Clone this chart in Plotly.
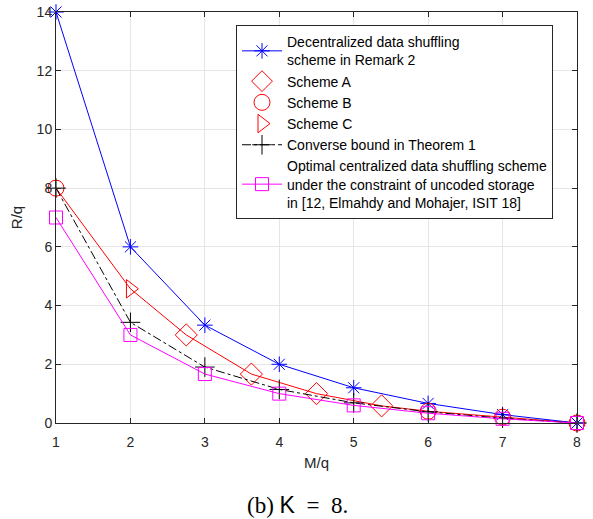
import plotly.graph_objects as go

M = [1, 2, 3, 4, 5, 6, 7, 8]
decentralized = [14, 6, 3.333, 2, 1.2, 0.667, 0.286, 0]
converse = [8, 3.429, 1.905, 1.143, 0.686, 0.381, 0.163, 0]
centralized = [7, 3, 1.667, 1, 0.6, 0.333, 0.143, 0]

schemeA_M = [2.75, 3.625, 4.5, 5.375]
schemeA_R = [3.0, 1.667, 1.0, 0.583]
schemeB_M = [1, 6, 7, 8]
schemeB_R = [8, 0.4, 0.2, 0]
schemeC_M = [2]
schemeC_R = [4.571]

best_M = [1, 2, 2.75, 3.625, 4.5, 5.375, 6, 7, 8]
best_R = [8, 4.571, 3.0, 1.667, 1.0, 0.583, 0.4, 0.2, 0]

names = [
    "Decentralized data shuffling<br>scheme in Remark 2",
    "Scheme A",
    "Scheme B",
    "Scheme C",
    "Converse bound in Theorem 1",
    "Optimal centralized data shuffling scheme<br>under the constraint of uncoded storage<br>in [12, Elmahdy and Mohajer, ISIT 18]",
]

BLUE = "#0000ff"
RED = "#ff0000"
MAG = "#ff00ff"
BLK = "#000000"

fig = go.Figure()
fig.add_trace(go.Scatter(x=best_M, y=best_R, mode="lines", line=dict(color=RED, width=1),
                         showlegend=False, hoverinfo="skip", cliponaxis=False))
fig.add_trace(go.Scatter(x=M, y=decentralized, mode="lines+markers", name=names[0],
                         line=dict(color=BLUE, width=1), cliponaxis=False,
                         marker=dict(symbol="asterisk-open", size=13, line=dict(color=BLUE, width=1))))
fig.add_trace(go.Scatter(x=schemeA_M, y=schemeA_R, mode="markers", name=names[1], cliponaxis=False,
                         marker=dict(symbol="diamond-open", size=17, color=RED, line=dict(color=RED, width=1))))
fig.add_trace(go.Scatter(x=schemeB_M, y=schemeB_R, mode="markers", name=names[2], cliponaxis=False,
                         marker=dict(symbol="circle-open", size=16, color=RED, line=dict(color=RED, width=1))))
fig.add_trace(go.Scatter(x=schemeC_M, y=schemeC_R, mode="markers", name=names[3], cliponaxis=False,
                         marker=dict(symbol="triangle-right-open", size=16, color=RED, line=dict(color=RED, width=1))))
fig.add_trace(go.Scatter(x=M, y=converse, mode="lines+markers", name=names[4], cliponaxis=False,
                         line=dict(color=BLK, width=1, dash="dashdot"),
                         marker=dict(symbol="cross-thin-open", size=14, color=BLK, line=dict(color=BLK, width=1))))
fig.add_trace(go.Scatter(x=M, y=centralized, mode="lines+markers", name=names[5], cliponaxis=False,
                         line=dict(color=MAG, width=1),
                         marker=dict(symbol="square-open", size=13, color=MAG, line=dict(color=MAG, width=1))))

axis_common = dict(showline=True, linecolor="#262626", linewidth=1, mirror="ticks",
                   ticks="inside", ticklen=5, tickcolor="#262626", automargin=False,
                   showgrid=True, gridcolor="#e5e5e5", gridwidth=1, zeroline=False,
                   tickfont=dict(family="Liberation Sans, Arial", size=14, color="#262626"))

fig.update_layout(
    width=593, height=519,
    margin=dict(l=56, r=16, t=12, b=96),
    paper_bgcolor="white", plot_bgcolor="white",
    font=dict(family="Liberation Sans, Arial", size=14, color="#262626"),
    xaxis=dict(range=[1, 8], tickvals=M, ticklabelstandoff=6,
               title=dict(text="M/q", standoff=8, font=dict(size=15, color="#262626")), **axis_common),
    yaxis=dict(range=[0, 14], tickvals=[0, 2, 4, 6, 8, 10, 12, 14],
               title=dict(text="R/q", standoff=10, font=dict(size=15, color="#262626")), **axis_common),
    legend=dict(x=0.3455, y=0.968, xanchor="left", yanchor="top",
                bgcolor="white", bordercolor="#262626", borderwidth=1,
                font=dict(family="Liberation Sans, Arial", size=14, color="#000000"),
                tracegroupgap=0, itemwidth=40, valign="middle"),
    showlegend=True,
)

fig.add_annotation(
    x=0.4626, y=-0.2, xref="paper", yref="paper", xanchor="center", yanchor="middle",
    text="(b) <span style=\"font-family:'Liberation Sans'\">K</span>&#8194;=&#8194;8.",
    showarrow=False, font=dict(family="Liberation Serif, Times New Roman", size=23, color="#000000"),
)

fig.write_html("out.html", post_script="document.body.style.margin='0';",
               config={"displayModeBar": False})
